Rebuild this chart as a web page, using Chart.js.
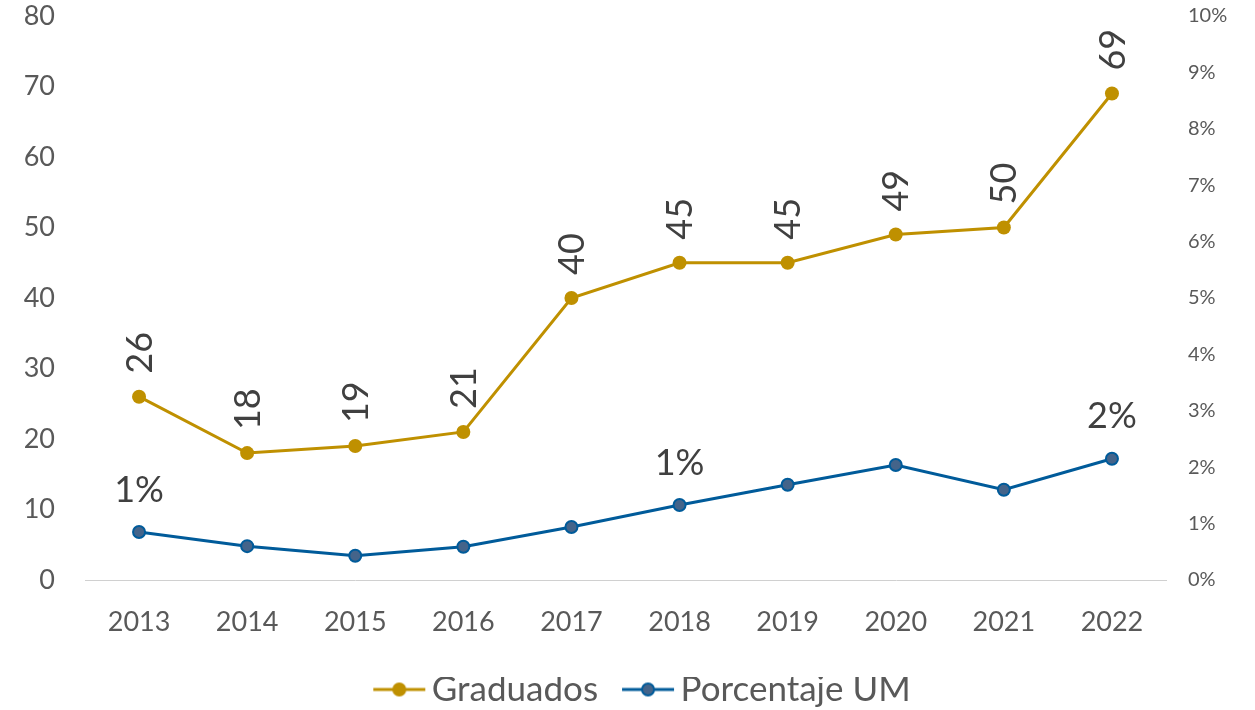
<!DOCTYPE html>
<html>
<head>
<meta charset="utf-8">
<script src="https://cdn.jsdelivr.net/npm/chart.js@4/dist/chart.umd.min.js"></script>
<style>
  html, body { margin: 0; padding: 0; background: #fff; }
  #wrap { width: 1255px; height: 710px; }
</style>
</head>
<body>
<div id="wrap"><canvas id="mychart" width="1255" height="710"></canvas></div>
<script>
let years = ["2013", "2014", "2015", "2016", "2017", "2018", "2019", "2020", "2021", "2022"];
let graduados = [26, 18, 19, 21, 40, 45, 45, 49, 50, 69];
// percent values (right axis)
let porcentaje = [0.85, 0.6, 0.43, 0.59, 0.94, 1.33, 1.69, 2.04, 1.6, 2.15];
let porcentajeLabels = ["1%", "", "", "", "", "1%", "", "", "", "2%"];

let gold = "#BF9000";
let blue = "#005B9A";
let blueFill = "#44648A";
let textColor = "#595959";
let fontName = "Lato, 'Open Sans', sans-serif";

// legend marker: line with a dot, blank space on the left keeps items apart
function legendIcon(line, fill, border) {
  let c = document.createElement("canvas");
  c.width = 98;
  c.height = 20;
  let ctx = c.getContext("2d");
  ctx.strokeStyle = line;
  ctx.lineWidth = 3;
  ctx.beginPath();
  ctx.moveTo(43, 10);
  ctx.lineTo(95, 10);
  ctx.stroke();
  ctx.beginPath();
  ctx.arc(69, 10, 6, 0, Math.PI * 2);
  ctx.fillStyle = fill;
  ctx.fill();
  ctx.lineWidth = 2;
  ctx.strokeStyle = border;
  ctx.stroke();
  return c;
}

// draws the value labels next to the points
let valueLabels = {
  id: "valueLabels",
  afterLayout(chart) {
    // push the legend a bit lower
    if (chart.legend) {
      chart.legend.top += 7;
      chart.legend.bottom += 7;
    }
  },
  afterDatasetsDraw(chart) {
    let ctx = chart.ctx;
    ctx.save();
    ctx.fillStyle = "#404040";
    ctx.font = "36px " + fontName;
    let meta0 = chart.getDatasetMeta(0);
    meta0.data.forEach((pt, i) => {
      ctx.save();
      ctx.translate(pt.x + 1, pt.y - 23);
      ctx.rotate(-Math.PI / 2);
      ctx.textAlign = "left";
      ctx.textBaseline = "middle";
      ctx.fillText(String(graduados[i]), 0, 0);
      ctx.restore();
    });
    let meta1 = chart.getDatasetMeta(1);
    ctx.textAlign = "center";
    ctx.textBaseline = "middle";
    meta1.data.forEach((pt, i) => {
      if (porcentajeLabels[i]) ctx.fillText(porcentajeLabels[i], pt.x, pt.y - 42);
    });
    ctx.restore();
  }
};

function fixSide(width) {
  return (s) => {
    s.width = width;
    s.paddingTop = 16;
    s.paddingBottom = 0;
  };
}

let mychart = document.getElementById("mychart").getContext("2d");

let chart = new Chart(mychart, {
  type: "line",
  data: {
    labels: years,
    datasets: [
      {
        label: "Graduados",
        data: graduados,
        yAxisID: "y",
        borderColor: gold,
        backgroundColor: gold,
        borderWidth: 3,
        pointRadius: 7,
        pointBorderWidth: 0,
        pointBackgroundColor: gold,
        tension: 0,
      },
      {
        label: "Porcentaje UM",
        data: porcentaje,
        yAxisID: "y1",
        borderColor: blue,
        backgroundColor: blueFill,
        borderWidth: 3,
        pointRadius: 6,
        pointBorderWidth: 2,
        pointBorderColor: blue,
        pointBackgroundColor: blueFill,
        tension: 0,
      },
    ],
  },
  options: {
    responsive: false,
    animation: false,
    layout: { padding: 0 },
    plugins: {
      tooltip: { enabled: false },
      legend: {
        position: "bottom",
        labels: {
          usePointStyle: true,
          pointStyleWidth: 70,
          generateLabels: (c) => [
            { text: "Graduados", pointStyle: legendIcon(gold, gold, gold), fontColor: textColor, datasetIndex: 0, lineWidth: 0 },
            { text: "Porcentaje UM", pointStyle: legendIcon(blue, blueFill, blue), fontColor: textColor, datasetIndex: 1, lineWidth: 0 },
          ],
          color: textColor,
          font: { size: 35, family: fontName },
          padding: -5,
          boxHeight: 20,
        },
      },
    },
    scales: {
      x: {
        offset: true,
        grid: { display: false, drawTicks: false },
        border: { color: "#D0D0D0", width: 1 },
        ticks: { color: textColor, font: { size: 27, family: fontName }, padding: 26 },
        afterFit: (s) => { s.height = 90; },
      },
      y: {
        position: "left",
        min: 0,
        max: 80,
        grid: { display: false, drawTicks: false },
        border: { display: false },
        ticks: { stepSize: 10, color: textColor, font: { size: 27, family: fontName }, padding: 30 },
        afterFit: fixSide(85),
      },
      y1: {
        position: "right",
        min: 0,
        max: 10,
        grid: { display: false, drawTicks: false },
        border: { display: false },
        ticks: {
          stepSize: 1,
          color: textColor,
          font: { size: 20, family: fontName },
          padding: 22,
          callback: (v) => v + "%",
        },
        afterFit: fixSide(89),
      },
    },
  },
  plugins: [valueLabels],
});
</script>
</body>
</html>
